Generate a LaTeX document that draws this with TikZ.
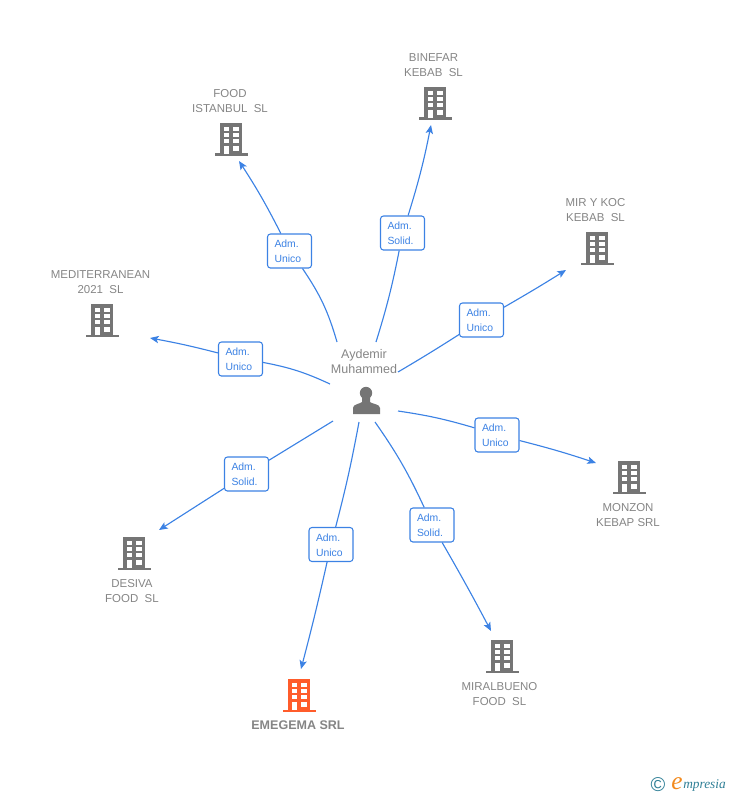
\documentclass[tikz,border=0pt]{standalone}
\usepackage{fontspec}
\setmainfont{Liberation Sans}
\newfontfamily\logofont{Liberation Serif}
\usetikzlibrary{arrows.meta}
\definecolor{linkBlue}{HTML}{3C82E4}
\definecolor{iconGray}{HTML}{757575}
\definecolor{textGray}{HTML}{858585}
\definecolor{iconOrange}{HTML}{FF5C2B}
\definecolor{logoTeal}{HTML}{2F7F96}
\definecolor{logoOrange}{HTML}{F28A1E}
\tikzset{
    building/.pic={
        \fill[pic actions] (-11,-16) rectangle (11,15);
        \fill[pic actions] (-16,14.5) rectangle (17,17);
        \foreach \wy in {-12,-6,0} {
            \fill[white] (-7,\wy) rectangle (-2,\wy+4);
            \fill[white] (2,\wy) rectangle (8,\wy+4);
        }
        \fill[white] (-7,7) rectangle (-2,15);
        \fill[white] (2,7) rectangle (8,12);
    }
}
\begin{document}
\begin{tikzpicture}[
    x=0.75pt, y=-0.75pt,
    role/.style={rectangle, draw=linkBlue, fill=white, rounded corners=2.2pt, line width=0.8pt, minimum width=33pt, minimum height=25.5pt, inner sep=0pt, text width=22.5pt, text=linkBlue, font=\fontsize{7.8pt}{11.2pt}\selectfont, align=left, execute at begin node={\rule{0pt}{6.5pt}}},
    company/.style={text=textGray, inner sep=0pt, align=center, font=\fontsize{8.6pt}{11.3pt}\selectfont},
    link/.style={draw=linkBlue, line width=0.85pt},
    >={Stealth[length=6.5pt, width=5.5pt, inset=1.5pt]}
]
\useasboundingbox (0,0) rectangle (728,795);

% Person in the middle
\node[text=textGray, inner sep=0pt, align=center, font=\fontsize{9.4pt}{11.3pt}\selectfont] at (364,361.5) (hub) {Aydemir\\Muhammed};
\fill[iconGray] (366,393) circle (6.2);
\fill[iconGray] (353,414) -- (353,408) .. controls (353,404) and (360,404) .. (362,402) -- (362,396) -- (370,396) -- (370,402) .. controls (372,404) and (380,404) .. (380,408) -- (380,414) -- cycle;

% Free ends of the links
\coordinate (startFood) at (337,342);
\coordinate (endFood) at (239,161);
\coordinate (startBinefar) at (376,342);
\coordinate (endBinefar) at (431,125);
\coordinate (startMir) at (398,372);
\coordinate (endMir) at (566,270);
\coordinate (startMedit) at (330,384);
\coordinate (endMedit) at (150,338);
\coordinate (startMonzon) at (398,411);
\coordinate (endMonzon) at (596,463);
\coordinate (startMiral) at (375,422);
\coordinate (endMiral) at (491,631);
\coordinate (startEmegema) at (359,422);
\coordinate (endEmegema) at (301,669);
\coordinate (startDesiva) at (333,421);
\coordinate (endDesiva) at (159,530);

% Role boxes
\node[role] at (289.5,251) (roleFood) {Adm.\\Unico};
\node[role] at (402.5,233) (roleBinefar) {Adm.\\Solid.};
\node[role] at (481.5,320) (roleMir) {Adm.\\Unico};
\node[role] at (240.5,359) (roleMedit) {Adm.\\Unico};
\node[role] at (497,435) (roleMonzon) {Adm.\\Unico};
\node[role] at (432,525) (roleMiral) {Adm.\\Solid.};
\node[role] at (331,544.5) (roleEmegema) {Adm.\\Unico};
\node[role] at (246.5,474) (roleDesiva) {Adm.\\Solid.};

% Links
\draw[link] (startFood) to[bend right=9] (roleFood);
\draw[link,->] (roleFood) to[bend right=3] (endFood);
\draw[link] (startBinefar) to[bend right=3] (roleBinefar);
\draw[link,->] (roleBinefar) to[bend right=3] (endBinefar);
\draw[link] (startMir) to[bend right=1] (roleMir);
\draw[link,->] (roleMir) to[bend right=1] (endMir);
\draw[link] (startMedit) to[bend right=7] (roleMedit);
\draw[link,->] (roleMedit) to[bend right=2] (endMedit);
\draw[link] (startMonzon) to[bend left=4] (roleMonzon);
\draw[link,->] (roleMonzon) to[bend left=2] (endMonzon);
\draw[link] (startMiral) to[bend left=5] (roleMiral);
\draw[link,->] (roleMiral) to[bend left=1] (endMiral);
\draw[link] (startEmegema) to[bend left=2] (roleEmegema);
\draw[link,->] (roleEmegema) to[bend left=1] (endEmegema);
\draw[link] (startDesiva) -- (roleDesiva);
\draw[link,->] (roleDesiva) -- (endDesiva);

% Companies
\pic[fill=iconGray] at (435,103) {building};
\node[company] at (433.5,65.5) (binefar) {BINEFAR\\KEBAB\ \ SL};
\pic[fill=iconGray] at (231,139) {building};
\node[company] at (230,101.5) (food) {FOOD\\ISTANBUL\ \ SL};
\pic[fill=iconGray] at (597,248) {building};
\node[company] at (595.5,210.5) (mir) {MIR Y KOC\\KEBAB\ \ SL};
\pic[fill=iconGray] at (102,320) {building};
\node[company] at (100.5,282.5) (medit) {MEDITERRANEAN\\2021\ \ SL};
\pic[fill=iconGray] at (629,477) {building};
\node[company] at (628,515) (monzon) {MONZON\\KEBAP SRL};
\pic[fill=iconGray] at (134,553) {building};
\node[company] at (132,591) (desiva) {DESIVA\\FOOD\ \ SL};
\pic[fill=iconGray] at (502,656) {building};
\node[company] at (499.5,694) (miral) {MIRALBUENO\\FOOD\ \ SL};
\pic[fill=iconOrange] at (299,695) {building};
\node[company, font=\fontsize{9.4pt}{11.3pt}\bfseries] at (298,725) (emegema) {EMEGEMA SRL};

% Logo
\node[text=logoTeal, inner sep=0pt, font=\fontsize{15pt}{15pt}\selectfont] at (658,784.5) (logoC) {©};
\node[text=logoOrange, inner sep=0pt, font=\logofont\itshape\fontsize{19pt}{19pt}\selectfont] at (677,784) (logoE) {e};
\node[text=logoTeal, inner sep=0pt, anchor=west, font=\logofont\itshape\fontsize{10pt}{10pt}\selectfont] at (683,785) (logoText) {mpresia};
\end{tikzpicture}
\end{document}
